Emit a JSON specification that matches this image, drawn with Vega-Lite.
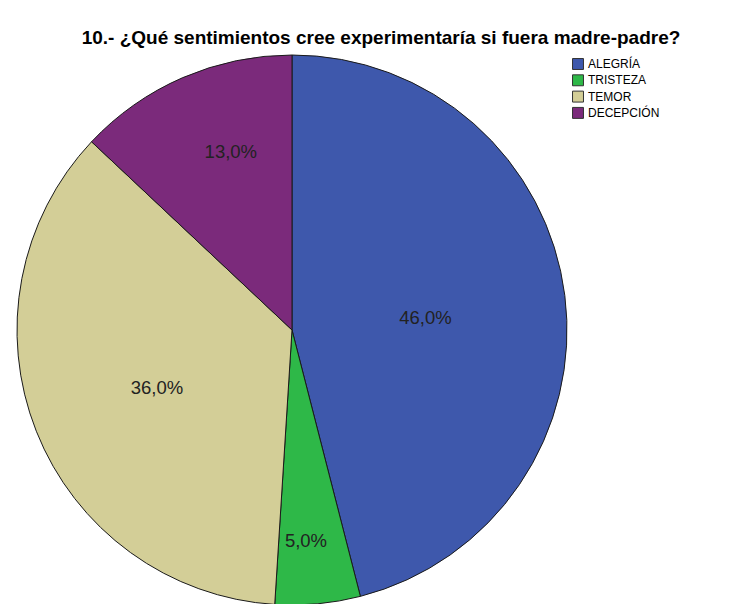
{
  "$schema": "https://vega.github.io/schema/vega-lite/v6.json",
  "width": 550,
  "height": 550,
  "autosize": "none",
  "padding": {"left": 17, "top": 55, "right": 175, "bottom": 0},
  "background": "white",
  "title": {
    "text": "10.- ¿Qué sentimientos cree experimentaría si fuera madre-padre?",
    "font": "Liberation Sans",
    "fontSize": 19,
    "fontWeight": "bold",
    "color": "#000000",
    "anchor": "middle",
    "frame": "group",
    "dx": 89,
    "offset": 5
  },
  "data": {
    "values": [
      {"categoria": "ALEGRÍA", "valor": 0.46, "orden": 1},
      {"categoria": "TRISTEZA", "valor": 0.05, "orden": 2},
      {"categoria": "TEMOR", "valor": 0.36, "orden": 3},
      {"categoria": "DECEPCIÓN", "valor": 0.13, "orden": 4}
    ]
  },
  "encoding": {
    "theta": {"field": "valor", "type": "quantitative", "stack": true},
    "order": {"field": "orden", "type": "quantitative"}
  },
  "layer": [
    {
      "mark": {"type": "arc", "outerRadius": 275, "stroke": "#1a1a1a", "strokeWidth": 1},
      "encoding": {
        "color": {
          "field": "categoria",
          "type": "nominal",
          "scale": {
            "domain": ["ALEGRÍA", "TRISTEZA", "TEMOR", "DECEPCIÓN"],
            "range": ["#3E58AC", "#2EB848", "#D3CE97", "#7B2A7B"]
          },
          "legend": {
            "title": null,
            "orient": "none",
            "legendX": 555,
            "legendY": 3,
            "symbolType": "square",
            "symbolSize": 120,
            "symbolStrokeColor": "#333333",
            "symbolStrokeWidth": 1,
            "labelFont": "Liberation Sans",
            "labelFontSize": 12,
            "labelColor": "#000000",
            "rowPadding": 0.3,
            "labelOffset": 4
          }
        }
      }
    },
    {
      "mark": {"type": "text", "radius": 134, "thetaOffset": 0.035, "font": "Liberation Sans", "fontSize": 18.5, "color": "#222222"},
      "encoding": {
        "text": {"field": "valor", "type": "quantitative", "format": ".1%"},
        "opacity": {"condition": {"test": "datum.categoria === 'ALEGRÍA'", "value": 1}, "value": 0}
      }
    },
    {
      "mark": {"type": "text", "radius": 211, "thetaOffset": 0.028, "font": "Liberation Sans", "fontSize": 18.5, "color": "#222222"},
      "encoding": {
        "text": {"field": "valor", "type": "quantitative", "format": ".1%"},
        "opacity": {"condition": {"test": "datum.categoria === 'TRISTEZA'", "value": 1}, "value": 0}
      }
    },
    {
      "mark": {"type": "text", "radius": 147, "thetaOffset": -0.03, "font": "Liberation Sans", "fontSize": 18.5, "color": "#222222"},
      "encoding": {
        "text": {"field": "valor", "type": "quantitative", "format": ".1%"},
        "opacity": {"condition": {"test": "datum.categoria === 'TEMOR'", "value": 1}, "value": 0}
      }
    },
    {
      "mark": {"type": "text", "radius": 188, "thetaOffset": 0.077, "font": "Liberation Sans", "fontSize": 18.5, "color": "#222222"},
      "encoding": {
        "text": {"field": "valor", "type": "quantitative", "format": ".1%"},
        "opacity": {"condition": {"test": "datum.categoria === 'DECEPCIÓN'", "value": 1}, "value": 0}
      }
    }
  ],
  "config": {
    "view": {"stroke": null},
    "font": "Liberation Sans",
    "locale": {
      "number": {"decimal": ",", "thousands": ".", "grouping": [3], "currency": ["", " €"]}
    }
  }
}
